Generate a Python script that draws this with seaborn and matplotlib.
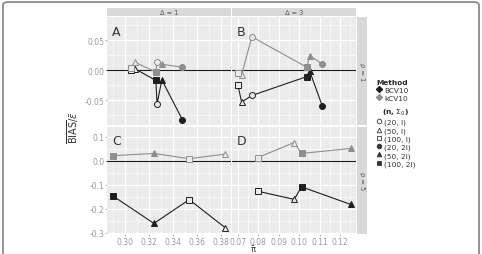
import numpy as np
import pandas as pd
import matplotlib
matplotlib.use("Agg")
import matplotlib.pyplot as plt
import seaborn as sns
from matplotlib.lines import Line2D
from matplotlib.patches import FancyBboxPatch
from matplotlib.ticker import MultipleLocator, FormatStrFormatter

# configurations (n, Sigma_0)
configs = ["(20, I)", "(50, I)", "(100, I)", "(20, 2I)", "(50, 2I)", "(100, 2I)"]
configs_p5 = ["(50, I)", "(100, I)", "(50, 2I)", "(100, 2I)"]
methods = ["BCV10", "kCV10"]

# panel A : Delta = 1, p = 1
x_A = [0.327, 0.309, 0.305, 0.348, 0.331, 0.326]
bcv_A = [-0.056, 0.002, 0.001, -0.082, -0.016, -0.017]
kcv_A = [0.014, 0.013, 0.004, 0.005, 0.010, -0.003]

# panel B : Delta = 3, p = 1
x_B = [0.0768, 0.0718, 0.0700, 0.1113, 0.1051, 0.1037]
bcv_B = [-0.042, -0.053, -0.025, -0.060, -0.002, -0.0105]
kcv_B = [0.0558, -0.0077, -0.0044, 0.0105, 0.0243, 0.005]

# panel C : Delta = 1, p = 5 (no n = 20)
x_C = [0.3838, 0.3538, 0.3244, 0.2900]
bcv_C = [-0.279, -0.162, -0.261, -0.146]
kcv_C = [0.0275, 0.008, 0.030, 0.0205]

# panel D : Delta = 3, p = 5
x_D = [0.0975, 0.0796, 0.1251, 0.1011]
bcv_D = [-0.161, -0.127, -0.182, -0.109]
kcv_D = [0.0754, 0.0123, 0.0508, 0.030]

rows = []
for pan, cfg, xs, b, k in [("A", configs, x_A, bcv_A, kcv_A),
                           ("B", configs, x_B, bcv_B, kcv_B),
                           ("C", configs_p5, x_C, bcv_C, kcv_C),
                           ("D", configs_p5, x_D, bcv_D, kcv_D)]:
    for c, xv, bv, kv in zip(cfg, xs, b, k):
        rows.append([pan, c, "BCV10", xv, bv])
        rows.append([pan, c, "kCV10", xv, kv])
df = pd.DataFrame(rows, columns=["panel", "config", "Method", "x", "bias"])

pal = {"BCV10": "#1e1e1e", "kCV10": "#8e8e8e"}
shapes = {"(20, I)": ("o", False), "(50, I)": ("^", False), "(100, I)": ("s", False),
          "(20, 2I)": ("o", True), "(50, 2I)": ("^", True), "(100, 2I)": ("s", True)}

sns.set_theme(style="darkgrid", rc={"axes.facecolor": "#EBEBEB"})
plt.rcParams["font.family"] = ["DejaVu Sans"]

W, H = 482, 255
fig = plt.figure(figsize=(W / 100, H / 100), dpi=100)
fig.patch.set_facecolor("white")

def fx(px):
    return px / W

def fy(py):
    return 1 - py / H

col_x = [(107, 231), (232, 356)]
row_y = [(18, 125.5), (127.5, 235)]
xlims = [(0.2853, 0.3886), (0.0671, 0.1277)]
ylims = [(-0.0903, 0.0887), (-0.305, 0.142)]
tick_col = "#9a9a9a"

for i, (r, c) in enumerate([(0, 0), (0, 1), (1, 0), (1, 1)]):
    pan = "ABCD"[i]
    x0, x1 = col_x[c]
    y0, y1 = row_y[r]
    ax = fig.add_axes([fx(x0), fy(y1), fx(x1 - x0), (y1 - y0) / H])
    ax.set_facecolor("#EBEBEB")
    for s in ax.spines.values():
        s.set_visible(False)
    ax.axhline(0, color="#1a1a1a", lw=0.8, zorder=1)
    sub = df[df.panel == pan]
    sns.lineplot(data=sub, x="x", y="bias", hue="Method", palette=pal,
                 estimator=None, sort=True, legend=False, lw=0.8, ax=ax, zorder=2)
    for _, row in sub.iterrows():
        m, filled = shapes[row.config]
        col = pal[row.Method]
        ax.plot(row.x, row.bias, marker=m, ms=4.0 if m != "o" else 4.3,
                mfc=col if filled else "#EBEBEB", mec=col, mew=0.7, zorder=3)
    ax.set_xlim(*xlims[c])
    ax.set_ylim(*ylims[r])
    if c == 0:
        ax.xaxis.set_major_locator(MultipleLocator(0.02))
        ax.xaxis.set_minor_locator(MultipleLocator(0.01))
    else:
        ax.xaxis.set_major_locator(MultipleLocator(0.01))
        ax.xaxis.set_minor_locator(MultipleLocator(0.005))
    ax.xaxis.set_major_formatter(FormatStrFormatter("%.2f"))
    if r == 0:
        ax.yaxis.set_major_locator(MultipleLocator(0.05))
        ax.yaxis.set_minor_locator(MultipleLocator(0.025))
        ax.yaxis.set_major_formatter(FormatStrFormatter("%.2f"))
    else:
        ax.yaxis.set_major_locator(MultipleLocator(0.1))
        ax.yaxis.set_minor_locator(MultipleLocator(0.05))
        ax.yaxis.set_major_formatter(FormatStrFormatter("%.1f"))
    ax.grid(which="major", color="white", lw=0.9)
    ax.grid(which="minor", color="white", lw=0.4)
    ax.set_xlabel("")
    ax.set_ylabel("")
    ax.tick_params(which="both", length=0)
    ax.tick_params(which="major", labelsize=5.5, labelcolor=tick_col, color=tick_col,
                   length=1.5, width=0.5, pad=0.5,
                   bottom=(r == 1), labelbottom=(r == 1),
                   left=(c == 0), labelleft=(c == 0))
    ax.text(0.04, 0.93, pan, transform=ax.transAxes, fontsize=9, color="#333333",
            ha="left", va="top")

# top strips
for c, lab in enumerate(["Δ = 1", "Δ = 3"]):
    x0, x1 = col_x[c]
    sax = fig.add_axes([fx(x0), fy(17.3), fx(x1 - x0), 8.3 / H])
    sax.set_facecolor("#D9D9D9")
    sax.set_xticks([]); sax.set_yticks([])
    for s in sax.spines.values():
        s.set_visible(False)
    sax.text(0.5, 0.5, lab, transform=sax.transAxes, ha="center", va="center",
             fontsize=4.8, color="#555555")

# right strips
for r, lab in enumerate(["ρ = 1", "ρ = 5"]):
    y0, y1 = row_y[r]
    sax = fig.add_axes([fx(357), fy(y1), fx(9.5), (y1 - y0) / H])
    sax.set_facecolor("#D9D9D9")
    sax.set_xticks([]); sax.set_yticks([])
    for s in sax.spines.values():
        s.set_visible(False)
    sax.text(0.5, 0.5, lab, transform=sax.transAxes, ha="center", va="center",
             fontsize=4.8, color="#555555", rotation=-90)

# axis labels
fig.text(fx(73), fy(128), r"$\overline{\mathrm{BIAS}}/\bar{\varepsilon}$", rotation=90,
         ha="center", va="center", fontsize=7, color="#333333")
fig.text(fx(253), fy(254.5), "\u03c0\u0304", ha="center", va="bottom",
         fontsize=6, color="#333333")

# legends
h_method = [Line2D([0], [0], color=pal[m], marker="D", ms=3, lw=0.8) for m in methods]
fig.legend(h_method, methods, title="Method", loc="upper left",
           bbox_to_anchor=(fx(376), fy(80)), frameon=False, fontsize=5.3,
           title_fontproperties={"weight": "bold", "size": 5.3},
           handlelength=0.8, handletextpad=0.3, labelspacing=0.22,
           borderpad=0, borderaxespad=0, labelcolor="#333333")
h_cfg = []
for cfg in configs:
    m, filled = shapes[cfg]
    h_cfg.append(Line2D([0], [0], color="#333333", marker=m, ls="none", ms=3.3,
                        mfc="#333333" if filled else "white", mew=0.6))
fig.legend(h_cfg, configs, title=r"(n, $\Sigma_0$)", loc="upper left",
           bbox_to_anchor=(fx(376), fy(108)), frameon=False, fontsize=5.3,
           title_fontproperties={"weight": "bold", "size": 5.3},
           handlelength=0.8, handletextpad=0.3, labelspacing=0.22,
           borderpad=0, borderaxespad=0, labelcolor="#333333")

# rounded frame
frame = FancyBboxPatch((fx(3), -0.1), fx(476), fy(3) + 0.1,
                       boxstyle="round,pad=0,rounding_size=0.012",
                       transform=fig.transFigure, fill=False, ec="#8a8a8a", lw=1.3)
fig.add_artist(frame)

fig.savefig("out.png", dpi=100)
